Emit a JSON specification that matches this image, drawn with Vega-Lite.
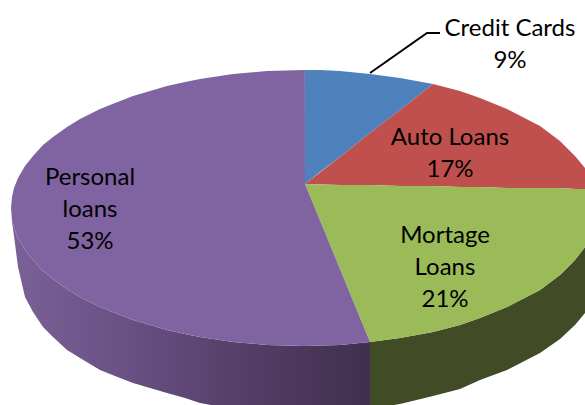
{"$schema":"https://vega.github.io/schema/vega-lite/v6.json","width":585,"height":405,"padding":0,"autosize":{"type":"none"},"background":"white","config":{"view":{"stroke":null}},
"datasets":{
"faces":[
{"part":"Credit Cards","x":305,"top":70,"bottom":184},{"part":"Credit Cards","x":320,"top":70,"bottom":172},{"part":"Credit Cards","x":340,"top":71,"bottom":157},{"part":"Credit Cards","x":370,"top":74,"bottom":133},{"part":"Credit Cards","x":400,"top":78,"bottom":110},{"part":"Credit Cards","x":433,"top":84,"bottom":84},
{"part":"Auto Loans","x":305,"top":184,"bottom":184},{"part":"Auto Loans","x":340,"top":157,"bottom":185},{"part":"Auto Loans","x":370,"top":133,"bottom":185},{"part":"Auto Loans","x":400,"top":110,"bottom":186},{"part":"Auto Loans","x":433,"top":84,"bottom":186},{"part":"Auto Loans","x":460,"top":91,"bottom":187},{"part":"Auto Loans","x":480,"top":98,"bottom":187},{"part":"Auto Loans","x":507,"top":109,"bottom":188},{"part":"Auto Loans","x":540,"top":126,"bottom":188},{"part":"Auto Loans","x":560,"top":141,"bottom":188},{"part":"Auto Loans","x":575,"top":156,"bottom":189},{"part":"Auto Loans","x":585,"top":168,"bottom":189},
{"part":"Mortage Loans","x":305,"top":184,"bottom":184},{"part":"Mortage Loans","x":340,"top":185,"bottom":269},{"part":"Mortage Loans","x":370,"top":185,"bottom":342},{"part":"Mortage Loans","x":400,"top":186,"bottom":338},{"part":"Mortage Loans","x":433,"top":186,"bottom":332},{"part":"Mortage Loans","x":460,"top":187,"bottom":325},{"part":"Mortage Loans","x":480,"top":187,"bottom":318},{"part":"Mortage Loans","x":507,"top":188,"bottom":307},{"part":"Mortage Loans","x":540,"top":188,"bottom":290},{"part":"Mortage Loans","x":560,"top":188,"bottom":275},{"part":"Mortage Loans","x":575,"top":189,"bottom":260},{"part":"Mortage Loans","x":585,"top":189,"bottom":247},
{"part":"Personal loans","x":11,"top":208,"bottom":208},{"part":"Personal loans","x":12,"top":197,"bottom":219},{"part":"Personal loans","x":14,"top":188,"bottom":228},{"part":"Personal loans","x":18,"top":178,"bottom":238},{"part":"Personal loans","x":25,"top":166,"bottom":250},{"part":"Personal loans","x":33,"top":156,"bottom":260},{"part":"Personal loans","x":43,"top":145,"bottom":271},{"part":"Personal loans","x":53,"top":137,"bottom":279},{"part":"Personal loans","x":67,"top":127,"bottom":289},{"part":"Personal loans","x":80,"top":119,"bottom":297},{"part":"Personal loans","x":100,"top":109,"bottom":307},{"part":"Personal loans","x":115,"top":103,"bottom":313},{"part":"Personal loans","x":133,"top":96,"bottom":320},{"part":"Personal loans","x":150,"top":91,"bottom":325},{"part":"Personal loans","x":167,"top":86,"bottom":330},{"part":"Personal loans","x":185,"top":82,"bottom":334},{"part":"Personal loans","x":200,"top":79,"bottom":337},{"part":"Personal loans","x":233,"top":74,"bottom":342},{"part":"Personal loans","x":267,"top":71,"bottom":345},{"part":"Personal loans","x":304.9,"top":70,"bottom":346},{"part":"Personal loans","x":305,"top":184,"bottom":346},{"part":"Personal loans","x":340,"top":269,"bottom":345},{"part":"Personal loans","x":370,"top":342,"bottom":342}
],
"purpleSide":[
{"x":11,"top":208,"bottom":208},{"x":12,"top":219,"bottom":222},{"x":14,"top":228,"bottom":236},{"x":18,"top":238,"bottom":267},{"x":25,"top":250,"bottom":297},{"x":33,"top":260,"bottom":312},{"x":43,"top":271,"bottom":327},{"x":53,"top":279,"bottom":337},{"x":67,"top":289,"bottom":350},{"x":80,"top":297,"bottom":358},{"x":100,"top":307,"bottom":370},{"x":115,"top":313,"bottom":376},{"x":133,"top":320,"bottom":383},{"x":150,"top":325,"bottom":388},{"x":167,"top":330,"bottom":393},{"x":185,"top":334,"bottom":398},{"x":200,"top":337,"bottom":403},{"x":233,"top":342,"bottom":409},{"x":267,"top":345,"bottom":413},{"x":305,"top":346,"bottom":415},{"x":340,"top":345,"bottom":413},{"x":370,"top":342,"bottom":409}
],
"greenSide":[
{"x":370,"top":342,"bottom":409},{"x":400,"top":338,"bottom":404},{"x":433,"top":332,"bottom":396},{"x":460,"top":325,"bottom":389},{"x":480,"top":318,"bottom":380},{"x":507,"top":307,"bottom":370},{"x":540,"top":290,"bottom":353},{"x":560,"top":275,"bottom":339},{"x":575,"top":260,"bottom":325},{"x":585,"top":247,"bottom":313}
],
"leader":[{"i":1,"x":370,"y":73},{"i":2,"x":427,"y":33},{"i":3,"x":440,"y":33}],
"labels":[
{"category":"Credit Cards","share":9,"label":"Credit Cards\n9%","x":510,"y":29},
{"category":"Auto Loans","share":17,"label":"Auto Loans\n17%","x":450,"y":138},
{"category":"Mortage Loans","share":21,"label":"Mortage\nLoans\n21%","x":445,"y":236},
{"category":"Personal loans","share":53,"label":"Personal\nloans\n53%","x":90,"y":178}
]},
"layer":[
{"data":{"name":"purpleSide"},"mark":{"type":"area","clip":true,"orient":"vertical","color":{"gradient":"linear","x1":0,"y1":0,"x2":1,"y2":0,"stops":[{"offset":0,"color":"#7a6197"},{"offset":0.3,"color":"#6a5285"},{"offset":0.7,"color":"#513c63"},{"offset":1,"color":"#40304e"}]}},
"encoding":{"x":{"field":"x","type":"quantitative","scale":{"domain":[0,585],"nice":false},"axis":null},"y":{"field":"top","type":"quantitative","scale":{"domain":[405,0],"nice":false},"axis":null},"y2":{"field":"bottom"}}},
{"data":{"name":"greenSide"},"mark":{"type":"area","clip":true,"orient":"vertical","color":"#414b26"},
"encoding":{"x":{"field":"x","type":"quantitative","scale":{"domain":[0,585],"nice":false},"axis":null},"y":{"field":"top","type":"quantitative","scale":{"domain":[405,0],"nice":false},"axis":null},"y2":{"field":"bottom"}}},
{"data":{"name":"faces"},"mark":{"type":"area","clip":true,"orient":"vertical"},
"encoding":{"x":{"field":"x","type":"quantitative","scale":{"domain":[0,585],"nice":false},"axis":null},"y":{"field":"top","type":"quantitative","scale":{"domain":[405,0],"nice":false},"axis":null},"y2":{"field":"bottom"},"color":{"field":"part","type":"nominal","legend":null,"scale":{"domain":["Credit Cards","Auto Loans","Mortage Loans","Personal loans"],"range":["#4f81bd","#c0504d","#9bbb59","#8064a2"]}}}},
{"data":{"name":"leader"},"mark":{"type":"line","color":"#000000","strokeWidth":2},
"encoding":{"x":{"field":"x","type":"quantitative","scale":{"domain":[0,585],"nice":false},"axis":null},"y":{"field":"y","type":"quantitative","scale":{"domain":[405,0],"nice":false},"axis":null},"order":{"field":"i","type":"ordinal"}}},
{"data":{"name":"labels"},"mark":{"type":"text","font":"Lato","fontSize":24,"color":"#000000","align":"center","baseline":"middle","lineBreak":"\n","lineHeight":32},
"encoding":{"x":{"field":"x","type":"quantitative","scale":{"domain":[0,585],"nice":false},"axis":null},"y":{"field":"y","type":"quantitative","scale":{"domain":[405,0],"nice":false},"axis":null},"text":{"field":"label","type":"nominal"}}}
]}
